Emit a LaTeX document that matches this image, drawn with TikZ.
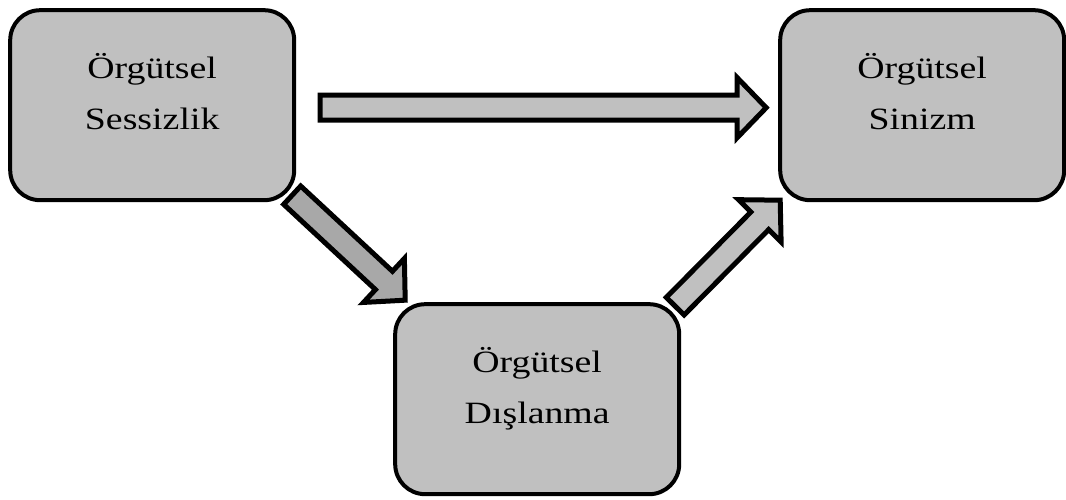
\documentclass[tikz,border=0pt]{standalone}
\usepackage{fontspec}
\setmainfont[FakeStretch=1.22]{Liberation Serif}
\usetikzlibrary{matrix,calc}
\definecolor{boxgray}{RGB}{192,192,192}
\definecolor{arrowgray}{RGB}{168,168,168}
\newcommand{\blockarrow}[3][boxgray]{%
	\coordinate (ba-n) at ($(#3)!29pt!(#2)$);
	\draw[arrowline, fill=#1]
		($(#2)!12.5pt!-90:(#3)$) -- ($(ba-n)!12.5pt!-90:(#3)$) -- ($(ba-n)!30pt!-90:(#3)$) -- (#3)
		-- ($(ba-n)!30pt!90:(#3)$) -- ($(ba-n)!12.5pt!90:(#3)$) -- ($(#2)!12.5pt!90:(#3)$) -- cycle;}

\begin{document}
\begin{tikzpicture}[x=1pt, y=1pt,
		box/.style={draw, line width=4pt, fill=boxgray, rounded corners=30pt, minimum width=284pt, minimum height=190pt, align=center, text depth=27pt, font=\fontsize{31}{51}\selectfont},
		arrowline/.style={draw, line width=5pt, line join=miter}]
			\useasboundingbox (0,0) rectangle (1066,500);
			\matrix (f) [column sep=97pt, row sep=100pt, inner sep=0pt, anchor=north west] at (8,492)
			{
				\node[box] (sess) {Örgütsel\\Sessizlik}; & & \node[box] (sin) {Örgütsel\\Sinizm}; \\
				& \node[box] (dis) {Örgütsel\\Dışlanma}; & \\
			};
			\coordinate (ss) at ([xshift=24pt, yshift=-2.5pt]sess.east);
			\coordinate (se) at ([xshift=-12pt, yshift=-2.5pt]sin.west);
			\coordinate (ds) at ([xshift=-4pt, yshift=7pt]sess.south east);
			\coordinate (de) at ([xshift=12pt, yshift=2pt]dis.north west);
			\coordinate (us) at ([xshift=-6pt, yshift=-4pt]dis.north east);
			\coordinate (ue) at ([xshift=2pt, yshift=2pt]sin.south west);
			\blockarrow{ss}{se}
			\blockarrow[arrowgray]{ds}{de}
			\blockarrow{us}{ue}
		\end{tikzpicture}
\end{document}
